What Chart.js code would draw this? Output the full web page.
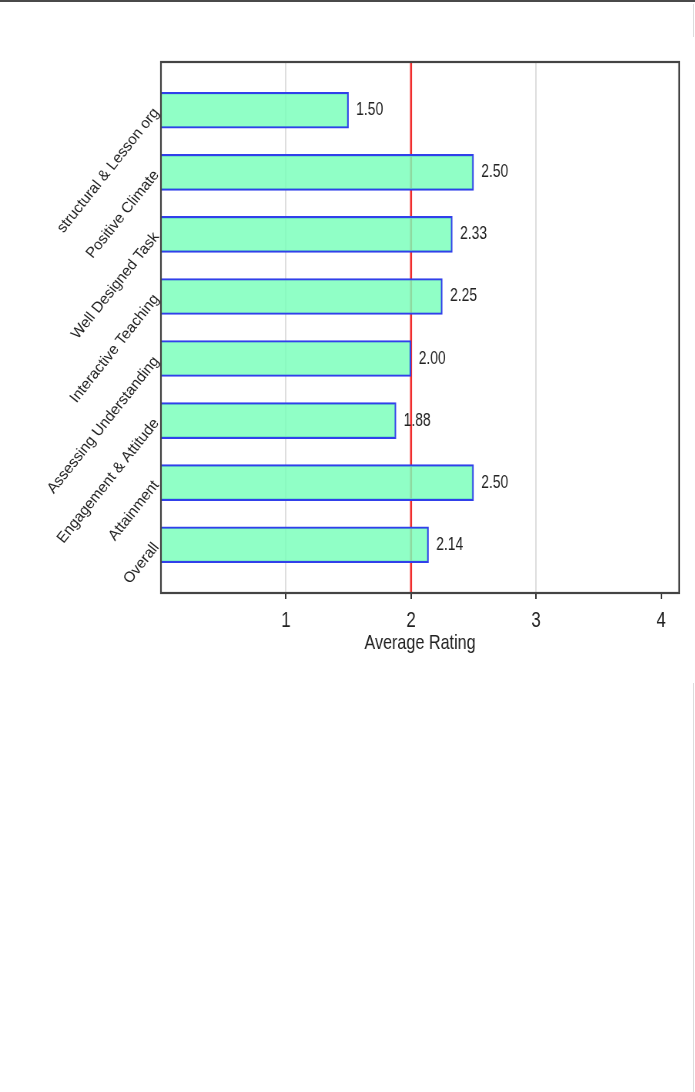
<!DOCTYPE html>
<html>
<head>
<meta charset="utf-8">
<script src="https://cdn.jsdelivr.net/npm/chart.js@4/dist/chart.umd.min.js"></script>
<style>
  html, body { margin: 0; padding: 0; background: #fff; }
  body { width: 695px; height: 1092px; position: relative; overflow: hidden; }
  .topline { position: absolute; left: 0; top: 0; width: 695px; height: 2px; background: #4a4a4a; }
  .edge1 { position: absolute; left: 693px; top: 4px; width: 1px; height: 33px; background: #dcdcdc; }
  .edge2 { position: absolute; left: 693px; top: 683px; width: 1px; height: 409px; background: #dcdcdc; }
  /* the reference is squeezed sideways, so draw wide and squeeze */
  #wrap { position: absolute; left: 0; top: 0; width: 903px; height: 660px;
          transform: scaleX(0.77); transform-origin: 0 0; }
</style>
</head>
<body>
<div class="topline"></div>
<div class="edge1"></div>
<div class="edge2"></div>
<div id="wrap"><canvas id="ratingChart" width="903" height="660"></canvas></div>
<script>
const categories = [
    'structural & Lesson org',
    'Positive Climate',
    'Well Designed Task',
    'Interactive Teaching',
    'Assessing Understanding',
    'Engagement & Attitude',
    'Attainment',
    'Overall'
];
const ratings = [1.50, 2.50, 2.33, 2.25, 2.00, 1.88, 2.50, 2.14];
const xTicks = [1, 2, 3, 4];
const refValue = 2;

const squeeze = 0.77;
const sans = '"Liberation Sans", Arial, sans-serif';

const refLine = {
    id: 'refLine',
    beforeDatasetsDraw(chart) {
        const { ctx, chartArea, scales } = chart;
        const x = scales.x.getPixelForValue(refValue);
        ctx.save();
        ctx.strokeStyle = '#f02c2c';
        ctx.lineWidth = 2.6;
        ctx.beginPath();
        ctx.moveTo(x, chartArea.top);
        ctx.lineTo(x, chartArea.bottom);
        ctx.stroke();
        ctx.restore();
    }
};

const valueLabels = {
    id: 'valueLabels',
    afterDatasetsDraw(chart) {
        const { ctx } = chart;
        ctx.save();
        ctx.font = '18px ' + sans;
        ctx.fillStyle = '#222';
        ctx.textBaseline = 'middle';
        chart.getDatasetMeta(0).data.forEach((bar, i) => {
            ctx.fillText(ratings[i].toFixed(2), bar.x + 10, bar.y);
        });
        ctx.restore();
    }
};

// category labels: undo the squeeze so the slanted text is not sheared
const catLabels = {
    id: 'catLabels',
    afterDraw(chart) {
        const { ctx, chartArea, scales } = chart;
        ctx.save();
        ctx.font = '15px ' + sans;
        ctx.fillStyle = '#222';
        ctx.textAlign = 'right';
        ctx.textBaseline = 'middle';
        categories.forEach((c, i) => {
            ctx.save();
            ctx.translate(chartArea.left - 6, scales.y.getPixelForValue(i));
            ctx.scale(1 / squeeze, 1);
            ctx.rotate(-51.5 * Math.PI / 180);
            ctx.fillText(c, 0, 0);
            ctx.restore();
        });
        ctx.restore();
    }
};

const frame = {
    id: 'frame',
    afterDraw(chart) {
        const { ctx, chartArea } = chart;
        ctx.save();
        ctx.strokeStyle = '#444';
        ctx.lineWidth = 2.2;
        ctx.strokeRect(chartArea.left, chartArea.top, chartArea.right - chartArea.left, chartArea.bottom - chartArea.top);
        ctx.restore();
    }
};

new Chart(document.getElementById('ratingChart'), {
    type: 'bar',
    data: {
        datasets: [{
            data: ratings.map((v, i) => ({ x: v, y: i })),
            backgroundColor: 'rgba(120, 255, 186, 0.82)',
            borderColor: '#3140ea',
            borderWidth: 2,
            barThickness: 36
        }]
    },
    options: {
        indexAxis: 'y',
        responsive: false,
        animation: false,
        layout: { padding: { top: 62, right: 21, left: 0, bottom: 0 } },
        plugins: {
            legend: { display: false },
            tooltip: { enabled: false }
        },
        scales: {
            x: {
                type: 'linear',
                min: 0,
                max: 4.144,
                afterBuildTicks: s => { s.ticks = xTicks.map(v => ({ value: v })); },
                afterFit: s => { s.height = 67; },
                border: { display: false },
                grid: {
                    color: c => (c.tick && c.tick.value === 4) ? 'rgba(0,0,0,0)' : '#dedede',
                    lineWidth: 2,
                    tickColor: '#333',
                    tickLength: 6,
                    tickWidth: 2
                },
                ticks: {
                    color: '#222',
                    padding: 9,
                    font: { family: sans, size: 22 }
                },
                title: {
                    display: true,
                    text: 'Average Rating',
                    color: '#222',
                    padding: { top: 0, bottom: 4 },
                    font: { family: sans, size: 21 }
                }
            },
            y: {
                type: 'linear',
                min: -0.777,
                max: 7.777,
                reverse: true,
                offset: false,
                afterBuildTicks: s => { s.ticks = categories.map((c, i) => ({ value: i })); },
                afterFit: s => { s.width = 209; },
                border: { display: false },
                grid: { display: false, drawTicks: false, offset: false },
                ticks: { display: false }
            }
        }
    },
    plugins: [refLine, valueLabels, catLabels, frame]
});
</script>
</body>
</html>
